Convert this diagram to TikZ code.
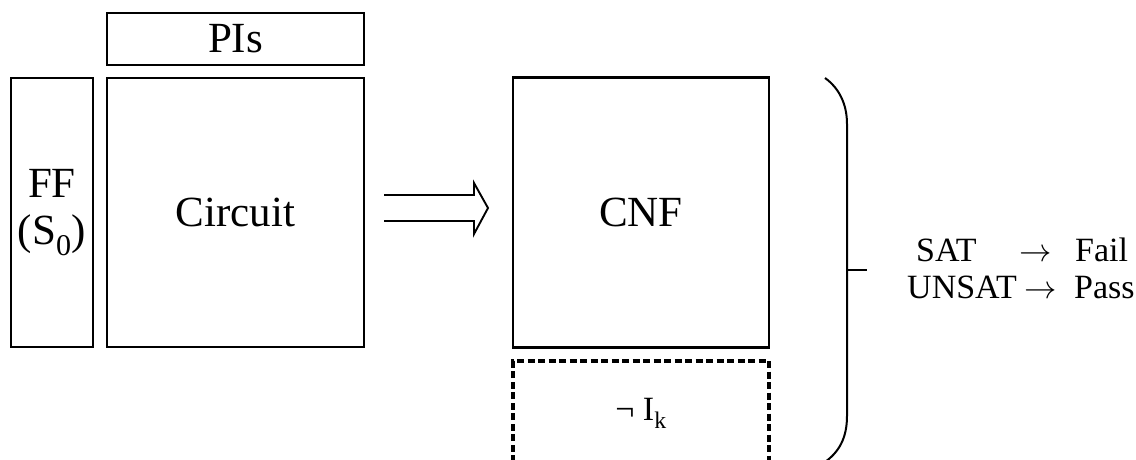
\documentclass[tikz,border=0pt]{standalone}
\usepackage{graphicx}
\usepackage{fontspec}
\setmainfont{Liberation Serif}
\newcommand{\resarrow}{\scalebox{1.3}{$\rightarrow$}}
\begin{document}
\begin{tikzpicture}[x=1pt,y=-1pt,
  blk/.style={draw,line width=2.4pt,rectangle,inner sep=0pt,font=\fontsize{43}{47}\selectfont,align=center},
  dashblk/.style={line width=3.2pt,dash pattern=on 7pt off 3.5pt},
  bigarrow/.style={line width=1.9pt,line join=miter},
  brace/.style={line width=2pt},
  res/.style={font=\fontsize{34}{34}\selectfont,inner sep=0pt,anchor=base west}]
\useasboundingbox (0,0) rectangle (1136,460);

% left side: primary inputs, initial state and the circuit
\node[blk,minimum width=257pt,minimum height=52pt] (pis) at (235.5,39) {PIs};
\node[blk,minimum width=82pt,minimum height=269pt] (ff) at (52,212.5) {FF\\(S\textsubscript{0})};
\node[blk,minimum width=257pt,minimum height=269pt] (circ) at (235.5,212.5) {Circuit};

% right side: CNF formula and negated property
\node[blk,minimum width=256pt,minimum height=270pt] (cnf) at (641,212.5) {};
\node[font=\fontsize{43}{47}\selectfont,inner sep=0pt] (cnflbl) at (cnf.center) {CNF};
\coordinate (nbl) at (513,462);
\coordinate (ntl) at (513,361);
\coordinate (ntr) at (769,361);
\coordinate (nbr) at (769,462);
\draw[dashblk] (nbl) -- (ntl) -- (ntr) -- (nbr);
\node[font=\fontsize{34}{34}\selectfont,inner sep=0pt] (negi) at (641,413) {¬ I\textsubscript{k}};

% translation arrow
\coordinate (a1) at (384,195);
\coordinate (a2) at (384,221);
\draw[bigarrow] (a1) -- (474,195) -- (474,183) -- (488,208) -- (474,234) -- (474,221) -- (a2);

% closing brace and result
\coordinate (btop) at (825,78);
\coordinate (bbot) at (825,462);
\coordinate (bmid) at (847,270);
\coordinate (btip) at (867,270);
\draw[brace] (btop) .. controls (839,88) and (847,104) .. (847,124)
  -- (847,416) .. controls (847,438) and (839,452) .. (bbot);
\draw[brace] (bmid) -- (btip);

\node[res] (sat) at (916,261) {SAT};
\node[res] (satar) at (1019,261) {\resarrow};
\node[res] (fail) at (1075,261) {Fail};
\node[res] (unsat) at (907,298) {UNSAT};
\node[res] (unsatar) at (1024,298) {\resarrow};
\node[res] (pass) at (1074,298) {Pass};
\end{tikzpicture}
\end{document}
